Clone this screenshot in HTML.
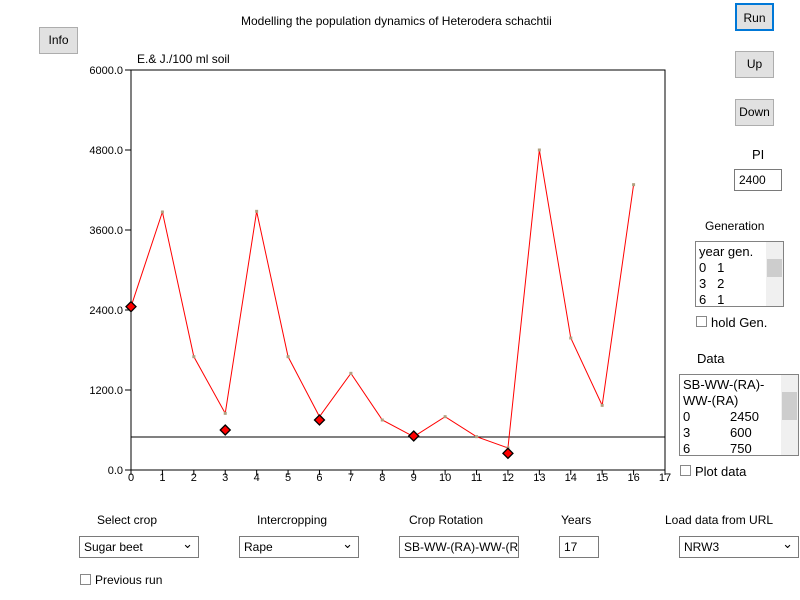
<!DOCTYPE html>
<html><head><style>
body{margin:0;width:800px;height:600px;background:#fff;font-family:"Liberation Sans",sans-serif;font-size:12px;position:relative;overflow:hidden}
.a{position:absolute}
.btn{position:absolute;background:#e1e1e1;border:1px solid #adadad;font-size:12px;text-align:center;box-sizing:border-box}
.sel{position:absolute;border:1px solid #7a7a7a;background:#fff;box-sizing:border-box;height:22px;font-size:12px;padding:3px 4px}
.sel:after{content:"⌄";position:absolute;right:5px;top:-1px;font-size:13px}
.cb{position:absolute;width:11px;height:11px;border:1px solid #888;box-sizing:border-box;background:#fff}
.lb{position:absolute;border:1px solid #828282;background:#fff;box-sizing:border-box;font-size:13px;line-height:16px;overflow:hidden}
.sb{position:absolute;right:0;top:0;width:17px;height:100%;background:#f0f0f0}
</style></head><body>
<div class="a" style="left:241px;top:14px;font-size:12px">Modelling the population dynamics of Heterodera schachtii</div>
<div class="btn" style="left:39px;top:27px;width:39px;height:27px;line-height:25px">Info</div>
<div class="btn" style="left:735px;top:3px;width:39px;height:28px;line-height:26px;border:2px solid #0078d7">Run</div>
<div class="btn" style="left:735px;top:51px;width:39px;height:27px;line-height:25px">Up</div>
<div class="btn" style="left:735px;top:99px;width:39px;height:27px;line-height:25px">Down</div>
<div class="a" style="left:752px;top:147px;font-size:13px">PI</div>
<div class="a" style="left:734px;top:169px;width:48px;height:22px;border:1px solid #7a7a7a;box-sizing:border-box;padding:3px 4px;font-size:12px">2400</div>
<div class="a" style="left:705px;top:219px;font-size:12px">Generation</div>
<div class="lb" style="left:695px;top:241px;width:89px;height:66px;padding:2px 3px"><div>year gen.</div><div>0&nbsp;&nbsp;&nbsp;1</div><div>3&nbsp;&nbsp;&nbsp;2</div><div>6&nbsp;&nbsp;&nbsp;1</div><div class="sb"><div style="position:absolute;top:17px;left:1px;width:15px;height:18px;background:#cdcdcd"></div></div></div>
<div class="cb" style="left:696px;top:316px"></div>
<div class="a" style="left:711px;top:315px;font-size:13px">hold Gen.</div>
<div class="a" style="left:697px;top:351px;font-size:13px">Data</div>
<div class="lb" style="left:679px;top:374px;width:120px;height:82px;padding:2px 3px"><div>SB-WW-(RA)-</div><div>WW-(RA)</div><div>0<span style="position:absolute;left:50px">2450</span></div><div>3<span style="position:absolute;left:50px">600</span></div><div>6<span style="position:absolute;left:50px">750</span></div><div class="sb"><div style="position:absolute;top:17px;left:1px;width:15px;height:28px;background:#cdcdcd"></div></div></div>
<div class="cb" style="left:680px;top:465px"></div>
<div class="a" style="left:695px;top:464px;font-size:13px">Plot data</div>

<svg class="a" style="left:0;top:0" width="800" height="600">
<text x="137" y="63" font-size="12" font-family="Liberation Sans">E.&amp; J./100 ml soil</text>
<rect x="131" y="70" width="534" height="400" fill="none" stroke="#000"/>
<g stroke="#000">
<line x1="125" y1="470" x2="131" y2="470"/><line x1="125" y1="390" x2="131" y2="390"/><line x1="125" y1="310" x2="131" y2="310"/><line x1="125" y1="230" x2="131" y2="230"/><line x1="125" y1="150" x2="131" y2="150"/><line x1="125" y1="70" x2="131" y2="70"/>
</g>
<g font-size="11" font-family="Liberation Sans" text-anchor="end">
<text x="123" y="474">0.0</text><text x="123" y="394">1200.0</text><text x="123" y="314">2400.0</text><text x="123" y="234">3600.0</text><text x="123" y="154">4800.0</text><text x="123" y="74">6000.0</text>
</g>
<g id="xt" stroke="#000"></g>
<g id="xl" font-size="11" font-family="Liberation Sans" text-anchor="middle"></g>
<line x1="131" y1="437" x2="665" y2="437" stroke="#000"/>
<polyline id="ln" fill="none" stroke="#f00" stroke-width="1"></polyline>
<g id="pts"></g>
<g id="dm"></g>
</svg>

<div class="a" style="left:97px;top:513px;font-size:12px">Select crop</div>
<div class="a" style="left:257px;top:513px;font-size:12px">Intercropping</div>
<div class="a" style="left:409px;top:513px;font-size:12px">Crop Rotation</div>
<div class="a" style="left:561px;top:513px;font-size:12px">Years</div>
<div class="a" style="left:665px;top:513px;font-size:12px">Load data from URL</div>
<div class="sel" style="left:79px;top:536px;width:120px">Sugar beet</div>
<div class="sel" style="left:239px;top:536px;width:120px">Rape</div>
<div class="a" style="left:399px;top:536px;width:120px;height:22px;border:1px solid #7a7a7a;box-sizing:border-box;padding:3px 4px;overflow:hidden;white-space:nowrap">SB-WW-(RA)-WW-(RA)</div>
<div class="a" style="left:559px;top:536px;width:40px;height:22px;border:1px solid #7a7a7a;box-sizing:border-box;padding:3px 4px">17</div>
<div class="sel" style="left:679px;top:536px;width:120px">NRW3</div>
<div class="cb" style="left:80px;top:574px"></div>
<div class="a" style="left:95px;top:573px;font-size:12px">Previous run</div>
<script>
var ns="http://www.w3.org/2000/svg",X=function(i){return 131+i*534/17},Y=function(v){return 470-v/15};
var xt=document.getElementById('xt'),xl=document.getElementById('xl');
for(var i=0;i<=17;i++){var l=document.createElementNS(ns,'line');l.setAttribute('x1',X(i));l.setAttribute('x2',X(i));l.setAttribute('y1',470);l.setAttribute('y2',475);xt.appendChild(l);
var t=document.createElementNS(ns,'text');t.setAttribute('x',X(i));t.setAttribute('y',481);t.textContent=i;xl.appendChild(t);}
var d=[2450,3870,1700,850,3880,1700,800,1450,750,500,800,500,330,4800,1980,970,4280],s=[];
var pts=document.getElementById('pts');
d.forEach(function(v,i){s.push(X(i)+','+Y(v));var r=document.createElementNS(ns,'rect');r.setAttribute('x',X(i)-1.5);r.setAttribute('y',Y(v)-1.5);r.setAttribute('width',3);r.setAttribute('height',3);r.setAttribute('fill','#b0a080');pts.appendChild(r);});
document.getElementById('ln').setAttribute('points',s.join(' '));
var dm=document.getElementById('dm');
[[0,2450],[3,600],[6,750],[9,510],[12,250]].forEach(function(p){var x=X(p[0]),y=Y(p[1]);var g=document.createElementNS(ns,'polygon');g.setAttribute('points',x+','+(y-5)+' '+(x+5)+','+y+' '+x+','+(y+5)+' '+(x-5)+','+y);g.setAttribute('fill','#f00');g.setAttribute('stroke','#000');g.setAttribute('stroke-width','1.3');dm.appendChild(g);});
</script>
</body></html>
